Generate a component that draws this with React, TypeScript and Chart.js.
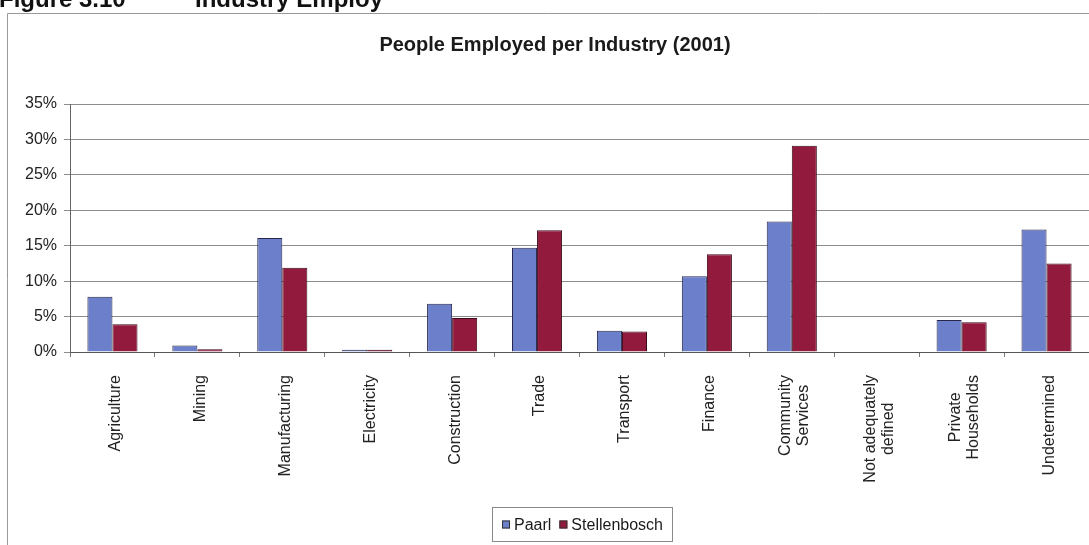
import React, { useEffect, useRef } from 'react';
import { Chart, registerables } from 'chart.js';

Chart.register(...registerables);

// ---- data ----
const categories: (string | string[])[] = [
  'Agriculture',
  'Mining',
  'Manufacturing',
  'Electricity',
  'Construction',
  'Trade',
  'Transport',
  'Finance',
  ['Community', 'Services'],
  ['Not adequately', 'defined'],
  ['Private', 'Households'],
  'Undetermined',
];
const paarl = [7.8, 0.9, 16.1, 0.3, 6.8, 14.7, 3.0, 10.7, 18.4, 0, 4.5, 17.3];
const stellenbosch = [3.9, 0.4, 11.9, 0.3, 4.8, 17.2, 2.9, 13.8, 29.1, 0, 4.2, 12.5];
const yTicks = [0, 5, 10, 15, 20, 25, 30, 35];
const seriesNames = ['Paarl', 'Stellenbosch'];
const chartTitle = 'People Employed per Industry (2001)';
const figureLabel = 'Figure 3.10';
const figureTitle = 'Industry Employ';

const FONT = '"Liberation Sans", Arial, Helvetica, sans-serif';
const BLUE = '#6b7fca';
const RED = '#921a3c';

const decor = {
  id: 'decor',
  afterDraw(chart: any) {
    const ctx: CanvasRenderingContext2D = chart.ctx;
    const xs = chart.scales.x;
    const area = chart.chartArea;
    ctx.save();

    // outer frame
    ctx.strokeStyle = '#9a9a9a';
    ctx.lineWidth = 1;
    ctx.beginPath();
    ctx.moveTo(7.5, 545);
    ctx.lineTo(7.5, 13.5);
    ctx.lineTo(1089, 13.5);
    ctx.stroke();

    // clipped figure heading
    ctx.fillStyle = '#111';
    ctx.font = `bold 24px ${FONT}`;
    ctx.textAlign = 'left';
    ctx.textBaseline = 'alphabetic';
    ctx.fillText(figureLabel, -1, 7);
    ctx.fillText(figureTitle, 195, 7);

    // chart title
    ctx.font = `bold 20px ${FONT}`;
    ctx.textAlign = 'center';
    ctx.textBaseline = 'middle';
    ctx.fillStyle = '#1a1a1a';
    ctx.fillText(chartTitle, 555, 45);

    // category labels (rotated, multi-line centered)
    ctx.font = `16px ${FONT}`;
    ctx.fillStyle = '#222';
    (chart.data.labels as (string | string[])[]).forEach((lab, i) => {
      const lines = Array.isArray(lab) ? lab : [lab];
      const W = Math.max(...lines.map((l) => ctx.measureText(l).width));
      const cx = xs.getPixelForValue(i) + 3;
      ctx.save();
      ctx.translate(cx, area.bottom + 23);
      ctx.rotate(-Math.PI / 2);
      ctx.textAlign = 'center';
      ctx.textBaseline = 'middle';
      lines.forEach((l, k) => {
        ctx.fillText(l, -W / 2, (k - (lines.length - 1) / 2) * 18);
      });
      ctx.restore();
    });

    // legend
    const bx = 492.5, by = 507.5, bw = 180, bh = 34;
    ctx.strokeStyle = '#8a8a8a';
    ctx.strokeRect(bx, by, bw, bh);
    ctx.font = `16px ${FONT}`;
    const ds = chart.data.datasets;
    const sq = 8, gap = 4, itemGap = 8;
    const widths = ds.map((d: any) => ctx.measureText(d.label).width);
    let total = 0;
    widths.forEach((w: number, i: number) => {
      total += sq + gap + w + (i < widths.length - 1 ? itemGap : 0);
    });
    let px = bx + bw / 2 - total / 2;
    const cy = by + bh / 2;
    ds.forEach((d: any, i: number) => {
      ctx.fillStyle = d.backgroundColor;
      ctx.fillRect(px, cy - sq / 2, sq, sq);
      ctx.strokeStyle = '#333';
      ctx.strokeRect(px + 0.5, cy - sq / 2 + 0.5, sq - 1, sq - 1);
      px += sq + gap;
      ctx.fillStyle = '#1a1a1a';
      ctx.textAlign = 'left';
      ctx.textBaseline = 'middle';
      ctx.fillText(d.label, px, cy + 1);
      px += widths[i] + itemGap;
    });

    ctx.restore();
  },
};

export default function App() {
  const ref = useRef<HTMLCanvasElement | null>(null);

  useEffect(() => {
    document.body.style.margin = '0';
    document.body.style.overflow = 'hidden';
    const canvas = ref.current;
    if (!canvas) return;
    const chart = new Chart(canvas, {
      type: 'bar',
      data: {
        labels: categories as any,
        datasets: [
          {
            label: seriesNames[0],
            data: paarl,
            backgroundColor: BLUE,
            borderColor: '#26264a',
            borderWidth: 1,
            categoryPercentage: 0.59,
            barPercentage: 1,
          },
          {
            label: seriesNames[1],
            data: stellenbosch,
            backgroundColor: RED,
            borderColor: '#3a0a1a',
            borderWidth: 1,
            categoryPercentage: 0.59,
            barPercentage: 1,
          },
        ],
      },
      options: {
        animation: false,
        responsive: false,
        devicePixelRatio: 1,
        layout: { padding: { top: 104, right: 0, bottom: 188, left: 0 } },
        plugins: {
          legend: { display: false },
          title: { display: false },
          tooltip: { enabled: false },
        },
        scales: {
          x: {
            grid: {
              drawOnChartArea: false,
              drawTicks: true,
              tickLength: 5,
              color: '#777',
              offset: true,
            },
            border: { color: '#555', width: 1 },
            ticks: { display: false },
          },
          y: {
            min: 0,
            max: 35,
            afterBuildTicks: (s: any) => {
              s.ticks = yTicks.map((v) => ({ value: v }));
            },
            afterFit: (s: any) => {
              s.width = 70;
            },
            grid: { color: '#8c8c8c', tickLength: 6, lineWidth: 1 },
            border: { color: '#666', width: 1 },
            ticks: {
              font: { size: 16, family: FONT },
              color: '#222',
              padding: 7,
              callback: (v: any) => `${v}%`,
            },
          },
        },
      },
      plugins: [decor],
    });
    return () => chart.destroy();
  }, []);

  return (
    <div style={{ width: 1089, height: 545, position: 'relative', background: '#fff' }}>
      <canvas ref={ref} width={1089} height={545} style={{ display: 'block' }} />
    </div>
  );
}
